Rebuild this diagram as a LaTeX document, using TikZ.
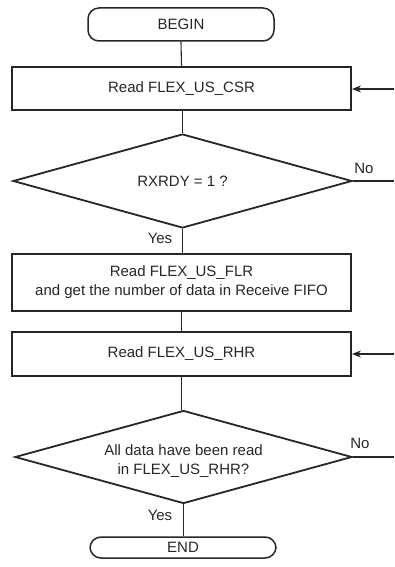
\documentclass[tikz,border=0pt]{standalone}
\usepackage{fontspec}
\setmainfont{Liberation Sans}
\usetikzlibrary{shapes.geometric,arrows.meta}
\begin{document}
\begin{tikzpicture}[x=1pt,y=-1pt,
  every node/.style={font=\fontsize{15}{19}\selectfont, text=black!85},
  term/.style={draw=black!85, line width=1.5pt, rounded corners=11pt, minimum width=186pt, inner sep=0pt},
  proc/.style={draw=black!85, line width=2pt, minimum width=339pt, inner sep=0pt, align=center},
  dec/.style={draw=black!85, diamond, line width=1.8pt, inner sep=0pt},
  conn/.style={draw=black!85, line width=1.1pt},
  inarr/.style={draw=black!85, line width=1.7pt, -{Stealth[length=9pt,width=7pt]}},
  outl/.style={draw=black!85, line width=1.6pt},
  lbl/.style={inner sep=0pt, align=center}]
\useasboundingbox (0,0) rectangle (394,567);
\node[term, minimum height=33pt] (begin) at (181,24.5) {BEGIN};
\node[proc, minimum height=43pt] (csr) at (181.5,88.5) {Read FLEX\_US\_CSR};
\node[dec, minimum width=339pt, minimum height=94pt] (d1) at (182.5,181) {};
\node[lbl] (t1) at (d1.center) {RXRDY = 1 ?};
\node[proc, minimum height=57pt] (flr) at (181.5,282.5) {Read FLEX\_US\_FLR\\and get the number of data in Receive FIFO};
\node[proc, minimum height=44pt] (rhr) at (181.5,354) {Read FLEX\_US\_RHR};
\node[dec, minimum width=337pt, minimum height=93pt] (d2) at (183.5,457) {};
\node[lbl] (t2) at (183.5,461) {All data have been read\\in FLEX\_US\_RHR?};
\node[term, minimum height=21pt] (end) at (183,547.5) {END};

\coordinate (c1) at (394,89);
\coordinate (c2) at (394,181);
\coordinate (c3) at (394,354);
\coordinate (c4) at (394,457);

\draw[conn] (begin.south) -- (csr.north);
\draw[conn] (csr.south -| d1.north) -- (d1.north);
\draw[conn] (d1.south) -- (flr.north -| d1.south);
\draw[conn] (flr.south) -- (rhr.north);
\draw[conn] (rhr.south) -- (d2.north -| rhr.south);
\draw[conn] (d2.south) -- (end.north -| d2.south);
\draw[inarr] (c1) -- (c1 -| csr.east);
\draw[inarr] (c3) -- (rhr.east);
\draw[outl] (d1.east) -- (c2);
\draw[outl] (d2.east) -- (c4);

\node[lbl] (no1) at (364,168) {No};
\node[lbl] (yes1) at (160,238) {Yes};
\node[lbl] (no2) at (360,443) {No};
\node[lbl] (yes2) at (160,515) {Yes};
\end{tikzpicture}
\end{document}
